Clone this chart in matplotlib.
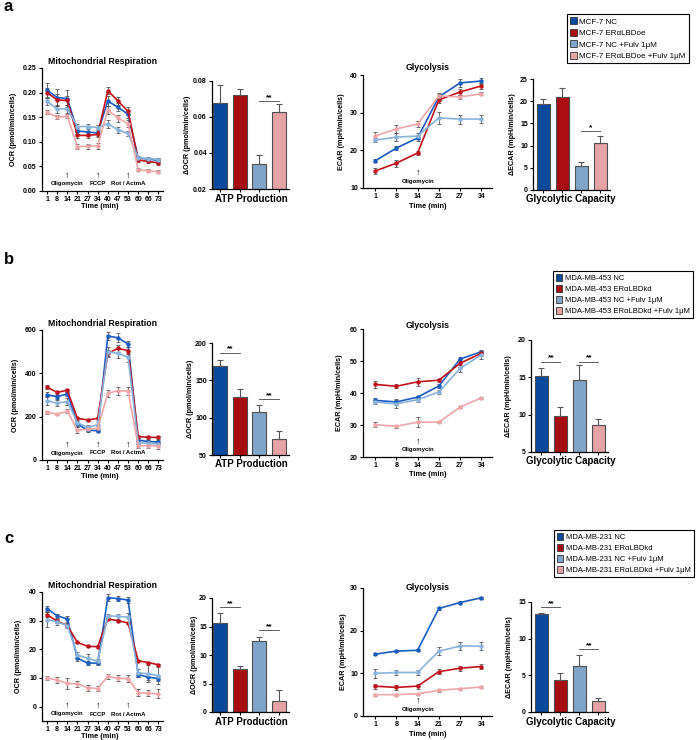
import matplotlib
matplotlib.use('Agg')
import matplotlib.pyplot as plt
import matplotlib.transforms as mtransforms
from matplotlib.patches import Patch

plt.rcParams['font.family'] = ['Liberation Sans', 'DejaVu Sans']

# ---------------- data ----------------
mito_times = ['1', '8', '14', '21', '27', '34', '40', '47', '53', '60', '66', '73']
gly_times = ['1', '8', '14', '21', '27', '34']

# row a  (MCF-7)
a_ocr_nc = [0.205, 0.190, 0.188, 0.122, 0.120, 0.118, 0.183, 0.170, 0.156, 0.067, 0.065, 0.062]
a_ocr_oe = [0.200, 0.185, 0.184, 0.113, 0.113, 0.115, 0.204, 0.183, 0.162, 0.063, 0.060, 0.057]
a_ocr_ncf = [0.182, 0.167, 0.167, 0.131, 0.131, 0.129, 0.137, 0.124, 0.117, 0.068, 0.066, 0.064]
a_ocr_oef = [0.160, 0.150, 0.152, 0.090, 0.091, 0.092, 0.165, 0.148, 0.137, 0.043, 0.041, 0.039]
a_ocr_nc_err = [0.014, 0.017, 0.017, 0.007, 0.008, 0.007, 0.010, 0.008, 0.008, 0.004, 0.004, 0.005]
a_ocr_oe_err = [0.010, 0.012, 0.010, 0.006, 0.006, 0.006, 0.007, 0.009, 0.008, 0.004, 0.004, 0.004]
a_ocr_ncf_err = [0.008, 0.008, 0.008, 0.006, 0.006, 0.006, 0.008, 0.006, 0.005, 0.004, 0.004, 0.004]
a_ocr_oef_err = [0.004, 0.004, 0.004, 0.005, 0.005, 0.006, 0.008, 0.007, 0.007, 0.003, 0.003, 0.003]
a_atp = [0.0675, 0.072, 0.034, 0.0625]
a_atp_err = [0.010, 0.0035, 0.005, 0.0045]
a_ecar_nc = [17.2, 20.6, 23.3, 34.2, 37.9, 38.4]
a_ecar_oe = [14.5, 16.6, 19.3, 33.4, 35.5, 37.1]
a_ecar_ncf = [22.7, 23.5, 23.8, 28.6, 28.3, 28.3]
a_ecar_oef = [23.8, 25.7, 27.0, 34.4, 34.2, 35.0]
a_ecar_nc_err = [0.4, 0.6, 0.7, 0.8, 1.0, 0.8]
a_ecar_oe_err = [0.8, 0.9, 0.5, 0.8, 0.8, 0.9]
a_ecar_ncf_err = [0.6, 1.0, 0.9, 1.5, 1.2, 1.1]
a_ecar_oef_err = [1.0, 1.0, 0.9, 0.8, 0.6, 0.4]
a_cap = [19.3, 21.0, 5.35, 10.5]
a_cap_err = [1.1, 2.0, 1.0, 1.6]

# row b  (MDA-MB-453)
b_ocr_nc = [301, 292, 305, 166, 138, 135, 572, 564, 535, 92, 85, 83]
b_ocr_oe = [336, 312, 322, 192, 185, 192, 492, 515, 505, 108, 105, 104]
b_ocr_ncf = [274, 262, 270, 172, 151, 162, 500, 492, 474, 80, 77, 74]
b_ocr_oef = [220, 212, 225, 138, 142, 146, 308, 320, 318, 66, 66, 65]
b_ocr_nc_err = [12, 10, 10, 12, 8, 6, 18, 20, 15, 8, 8, 8]
b_ocr_oe_err = [8, 8, 8, 8, 6, 6, 15, 15, 15, 6, 6, 6]
b_ocr_ncf_err = [20, 15, 15, 15, 10, 12, 20, 20, 20, 8, 8, 8]
b_ocr_oef_err = [6, 6, 10, 15, 10, 10, 15, 18, 18, 10, 12, 12]
b_atp = [169, 127.5, 108, 72]
b_atp_err = [8, 10.5, 9, 10]
b_ecar_nc = [37.7, 37.2, 38.7, 42.2, 50.6, 52.9]
b_ecar_oe = [42.7, 42.1, 43.5, 44.0, 49.3, 52.4]
b_ecar_ncf = [37.2, 36.6, 37.9, 40.3, 47.7, 51.9]
b_ecar_oef = [30.1, 29.6, 30.9, 30.9, 35.6, 38.5]
b_ecar_nc_err = [0.6, 0.8, 0.5, 0.5, 0.6, 0.6]
b_ecar_oe_err = [1.0, 0.6, 1.2, 0.5, 1.2, 0.8]
b_ecar_ncf_err = [0.6, 1.2, 0.6, 0.5, 1.0, 1.2]
b_ecar_oef_err = [0.8, 0.4, 1.5, 0.4, 0.4, 0.4]
b_cap = [15.2, 9.8, 14.7, 8.6]
b_cap_err = [1.1, 1.2, 2.0, 0.8]

# row c  (MDA-MB-231)
c_ocr_nc = [34.2, 31.7, 30.6, 16.9, 15.2, 15.2, 38.0, 37.7, 37.2, 11.2, 10.3, 9.8]
c_ocr_oe = [32.1, 29.8, 28.3, 22.4, 21.1, 20.9, 30.6, 30.0, 29.2, 16.0, 15.4, 14.6]
c_ocr_ncf = [30.4, 29.5, 28.3, 18.0, 16.9, 15.8, 31.7, 31.5, 31.2, 11.8, 11.5, 10.8]
c_ocr_oef = [10.0, 9.3, 8.1, 8.0, 6.6, 6.3, 10.6, 9.9, 9.8, 4.9, 4.7, 4.5]
c_ocr_nc_err = [1.0, 0.8, 1.0, 1.0, 0.6, 0.8, 1.2, 1.0, 1.2, 1.0, 1.0, 1.0]
c_ocr_oe_err = [0.8, 0.6, 0.4, 0.3, 0.3, 0.5, 0.4, 0.4, 0.4, 0.3, 0.3, 0.3]
c_ocr_ncf_err = [2.5, 1.0, 1.0, 1.0, 1.5, 0.8, 0.8, 1.0, 1.5, 1.5, 3.0, 3.0]
c_ocr_oef_err = [0.8, 1.0, 1.8, 1.0, 1.0, 0.8, 0.8, 1.0, 1.2, 1.2, 1.0, 1.5]
c_atp = [15.7, 7.5, 12.5, 2.0]
c_atp_err = [1.6, 0.5, 0.6, 1.8]
c_ecar_nc = [14.5, 15.2, 15.4, 25.2, 26.6, 27.7]
c_ecar_oe = [7.0, 6.7, 7.0, 10.4, 11.2, 11.6]
c_ecar_ncf = [10.0, 10.2, 10.2, 15.2, 16.4, 16.4]
c_ecar_oef = [5.0, 5.0, 5.2, 6.0, 6.4, 6.8]
c_ecar_nc_err = [0.2, 0.2, 0.2, 0.4, 0.3, 0.3]
c_ecar_oe_err = [0.6, 0.6, 0.6, 0.6, 0.6, 0.7]
c_ecar_ncf_err = [1.0, 0.6, 0.6, 1.0, 1.0, 1.0]
c_ecar_oef_err = [0.2, 0.2, 0.2, 0.3, 0.2, 0.2]
c_cap = [13.3, 4.3, 6.3, 1.5]
c_cap_err = [0.25, 1.0, 1.5, 0.4]

legend_a = ['MCF-7 NC', 'MCF-7 ERαLBDoe', 'MCF-7 NC +Fulv 1μM', 'MCF-7 ERαLBDoe +Fulv 1μM']
legend_b = ['MDA-MB-453 NC', 'MDA-MB-453 ERαLBDkd', 'MDA-MB-453 NC +Fulv 1μM',
            'MDA-MB-453 ERαLBDkd +Fulv 1μM']
legend_c = ['MDA-MB-231 NC', 'MDA-MB-231 ERαLBDkd', 'MDA-MB-231 NC +Fulv 1μM',
            'MDA-MB-231 ERαLBDkd +Fulv 1μM']

# ---------------- style ----------------
bar_colors = ['#0a4a9c', '#a80d12', '#7fa6c9', '#e5a3a3']
line_colors = ['#1a5cc0', '#c1121c', '#87b3dc', '#f0a5a8']
W, H = 699, 740

fig = plt.figure(figsize=(W / 100, H / 100), dpi=100)


def px_axes(l, t, r, b):
    ax = fig.add_axes([l / W, 1 - b / H, (r - l) / W, (b - t) / H])
    for s in ['top', 'right']:
        ax.spines[s].set_visible(False)
    for s in ['left', 'bottom']:
        ax.spines[s].set_linewidth(0.9)
    ax.tick_params(length=2.5, width=0.8, labelsize=5, pad=1.2)
    return ax


def ftext(x, y, s, size, **kw):
    fig.text(x / W, 1 - y / H, s, fontsize=size, ha='center', va='center', **kw)


def ylabel(ax, s, xpx, left, right):
    ax.set_ylabel(s, fontsize=5.2, fontweight='bold')
    ax.yaxis.set_label_coords(-(left - xpx) / (right - left), 0.5)


def bold_ticks(ax):
    for lab in ax.get_yticklabels() + ax.get_xticklabels():
        lab.set_fontweight('bold')


def mark(ax, x, pxoff, s, size, height):
    trans = mtransforms.blended_transform_factory(ax.transData, ax.transAxes)
    ax.text(x, pxoff / height, s, transform=trans, ha='center', va='center',
            fontsize=size, fontweight='bold')


def line_panel(ax, times, series, errs, ylim, yticks, fmt, height, drugs):
    xs = list(range(len(times)))
    for y, e, c in zip(series, errs, line_colors):
        ax.errorbar(xs, y, yerr=e, color=c, ecolor='#555555', elinewidth=0.6,
                    capsize=1.4, capthick=0.6, marker='o', ms=2.2, lw=1.2)
    ax.set_xlim(-0.5, len(times) - 1 + 0.45)
    ax.set_ylim(*ylim)
    ax.set_yticks(yticks)
    ax.set_yticklabels([fmt.format(v) for v in yticks])
    ax.set_xticks(xs)
    ax.set_xticklabels(times)
    bold_ticks(ax)
    for xi, name in drugs:
        mark(ax, xi, 15.5, '↑', 6.5, height)
        mark(ax, xi, 7, name, 4.3, height)


def bar_panel(ax, vals, errs, ylim, yticks, fmt, sigs, xlim):
    xs = list(range(len(vals)))
    ax.bar(xs, vals, width=0.7, color=bar_colors, edgecolor='#4d4d4d', lw=0.8,
           yerr=[[0] * len(errs), errs], ecolor='#555555',
           error_kw=dict(elinewidth=0.8, capsize=2.5, capthick=0.8))
    ax.set_xlim(*xlim)
    ax.set_ylim(*ylim)
    ax.set_yticks(yticks)
    ax.set_yticklabels([fmt.format(v) for v in yticks])
    ax.set_xticks(xs)
    ax.set_xticklabels([])
    ax.tick_params(axis='x', length=2)
    bold_ticks(ax)
    for i, j, y, s in sigs:
        ax.plot([i, j], [y, y], color='#444444', lw=0.6)
        ax.text((i + j) / 2, y, s, ha='center', va='bottom', fontsize=6, fontweight='bold')


def add_legend(labels, x, y, size):
    handles = [Patch(facecolor=c, edgecolor='#333333', lw=0.6) for c in bar_colors]
    leg = fig.legend(handles, labels, loc='upper left', bbox_to_anchor=(x / W, 1 - y / H),
                     fontsize=size, handlelength=0.8, handleheight=1.0, labelspacing=0.4,
                     borderpad=0.4, handletextpad=0.35, borderaxespad=0,
                     fancybox=False, framealpha=1)
    leg.get_frame().set_edgecolor('black')
    leg.get_frame().set_linewidth(0.8)


mito_drugs = [(2, 'Oligomycin'), (5, 'FCCP'), (8, 'Rot / ActmA')]
gly_drugs = [(2, 'Oligomycin')]

rows = [
    dict(letter='a', let_y=11,
         mito=(42, 68, 163, 191), ocr=[a_ocr_nc, a_ocr_oe, a_ocr_ncf, a_ocr_oef],
         ocr_err=[a_ocr_nc_err, a_ocr_oe_err, a_ocr_ncf_err, a_ocr_oef_err],
         ocr_lim=(0, 0.25), ocr_ticks=[0, 0.05, 0.10, 0.15, 0.20, 0.25], ocr_fmt='{:.2f}',
         ocr_lab_x=17, mito_title_y=62, time_y=207,
         atp=(212, 81, 289, 189), atp_vals=a_atp, atp_err=a_atp_err, atp_lim=(0.02, 0.08),
         atp_ticks=[0.02, 0.04, 0.06, 0.08], atp_fmt='{:.2f}', atp_lab_x=191, atp_y=199,
         atp_sig=[(2, 3, 0.069, '**')],
         gly=(363, 75, 492, 188), ecar=[a_ecar_nc, a_ecar_oe, a_ecar_ncf, a_ecar_oef],
         ecar_err=[a_ecar_nc_err, a_ecar_oe_err, a_ecar_ncf_err, a_ecar_oef_err],
         ecar_lim=(10, 40), ecar_ticks=[10, 20, 30, 40], ecar_lab_x=345, gly_title_y=67,
         gtime_y=206,
         cap=(533, 79, 610, 190), cap_vals=a_cap, cap_err=a_cap_err, cap_lim=(0, 25),
         cap_ticks=[0, 5, 10, 15, 20, 25], cap_lab_x=516, cap_y=199,
         cap_sig=[(2, 3, 13.3, '*')],
         legend=legend_a, leg_xy=(567, 14), leg_size=5.75),
    dict(letter='b', let_y=264,
         mito=(42, 330, 163, 460), ocr=[b_ocr_nc, b_ocr_oe, b_ocr_ncf, b_ocr_oef],
         ocr_err=[b_ocr_nc_err, b_ocr_oe_err, b_ocr_ncf_err, b_ocr_oef_err],
         ocr_lim=(0, 600), ocr_ticks=[0, 200, 400, 600], ocr_fmt='{:.0f}',
         ocr_lab_x=19, mito_title_y=324, time_y=477,
         atp=(212, 343, 289, 455), atp_vals=b_atp, atp_err=b_atp_err, atp_lim=(50, 200),
         atp_ticks=[50, 100, 150, 200], atp_fmt='{:.0f}', atp_lab_x=194, atp_y=464,
         atp_sig=[(0, 1, 187, '**'), (2, 3, 125, '**')],
         gly=(363, 329, 492, 457), ecar=[b_ecar_nc, b_ecar_oe, b_ecar_ncf, b_ecar_oef],
         ecar_err=[b_ecar_nc_err, b_ecar_oe_err, b_ecar_ncf_err, b_ecar_oef_err],
         ecar_lim=(20, 60), ecar_ticks=[20, 30, 40, 50, 60], ecar_lab_x=343, gly_title_y=326,
         gtime_y=474,
         cap=(531, 340, 608, 452), cap_vals=b_cap, cap_err=b_cap_err, cap_lim=(5, 20),
         cap_ticks=[5, 10, 15, 20], cap_lab_x=512, cap_y=461,
         cap_sig=[(0, 1, 17.1, '**'), (2, 3, 17.1, '**')],
         legend=legend_b, leg_xy=(553, 271), leg_size=5.5),
    dict(letter='c', let_y=543,
         mito=(42, 592, 163, 721), ocr=[c_ocr_nc, c_ocr_oe, c_ocr_ncf, c_ocr_oef],
         ocr_err=[c_ocr_nc_err, c_ocr_oe_err, c_ocr_ncf_err, c_ocr_oef_err],
         ocr_lim=(-5, 40), ocr_ticks=[0, 10, 20, 30, 40], ocr_fmt='{:.0f}',
         ocr_lab_x=22, mito_title_y=585, time_y=736,
         atp=(212, 598, 289, 712), atp_vals=c_atp, atp_err=c_atp_err, atp_lim=(0, 20),
         atp_ticks=[0, 5, 10, 15, 20], atp_fmt='{:.0f}', atp_lab_x=198, atp_y=722,
         atp_sig=[(0, 1, 18.4, '**'), (2, 3, 14.3, '**')],
         gly=(363, 588, 492, 716), ecar=[c_ecar_nc, c_ecar_oe, c_ecar_ncf, c_ecar_oef],
         ecar_err=[c_ecar_nc_err, c_ecar_oe_err, c_ecar_ncf_err, c_ecar_oef_err],
         ecar_lim=(0, 30), ecar_ticks=[0, 10, 20, 30], ecar_lab_x=347, gly_title_y=587,
         gtime_y=734,
         cap=(531, 602, 608, 712), cap_vals=c_cap, cap_err=c_cap_err, cap_lim=(0, 15),
         cap_ticks=[0, 5, 10, 15], cap_lab_x=513, cap_y=722,
         cap_sig=[(0, 1, 14.3, '**'), (2, 3, 8.6, '**')],
         legend=legend_c, leg_xy=(554, 530), leg_size=5.5),
]

for r in rows:
    fig.text(4 / W, 1 - r['let_y'] / H, r['letter'], fontsize=12, fontweight='bold',
             va='baseline', ha='left')

    # mitochondrial respiration
    l, t, rr, b = r['mito']
    ax = px_axes(l, t, rr, b)
    line_panel(ax, mito_times, r['ocr'], r['ocr_err'], r['ocr_lim'], r['ocr_ticks'],
               r['ocr_fmt'], b - t, mito_drugs)
    ax.tick_params(axis='x', pad=0.8)
    ylabel(ax, 'OCR (pmol/min/cells)', r['ocr_lab_x'], l, rr)
    ftext(103, r['mito_title_y'], 'Mitochondrial Respiration', 6.3, fontweight='bold')
    ftext(100, r['time_y'], 'Time (min)', 5.3, fontweight='bold')

    # ATP production
    l, t, rr, b = r['atp']
    ax = px_axes(l, t, rr, b)
    bar_panel(ax, r['atp_vals'], r['atp_err'], r['atp_lim'], r['atp_ticks'], r['atp_fmt'],
              r['atp_sig'], (-0.4, 3.5))
    ylabel(ax, 'ΔOCR (pmol/min/cells)', r['atp_lab_x'], l, rr)
    ftext(251, r['atp_y'], 'ATP Production', 7, fontweight='bold')

    # glycolysis
    l, t, rr, b = r['gly']
    ax = px_axes(l, t, rr, b)
    line_panel(ax, gly_times, r['ecar'], r['ecar_err'], r['ecar_lim'], r['ecar_ticks'],
               '{:.0f}', b - t, gly_drugs)
    ax.set_xlim(-0.57, 5.5)
    ylabel(ax, 'ECAR (mpH/min/cells)', r['ecar_lab_x'], l, rr)
    ftext(428, r['gly_title_y'], 'Glycolysis', 6.3, fontweight='bold')
    ftext(428, r['gtime_y'], 'Time (min)', 5.3, fontweight='bold')

    # glycolytic capacity
    l, t, rr, b = r['cap']
    ax = px_axes(l, t, rr, b)
    bar_panel(ax, r['cap_vals'], r['cap_err'], r['cap_lim'], r['cap_ticks'], '{:.0f}',
              r['cap_sig'], (-0.55, 3.5))
    ylabel(ax, 'ΔECAR (mpH/min/cells)', r['cap_lab_x'], l, rr)
    ftext(571, r['cap_y'], 'Glycolytic Capacity', 7, fontweight='bold')

    add_legend(r['legend'], *r['leg_xy'], r['leg_size'])

fig.savefig('out.png', dpi=100)
